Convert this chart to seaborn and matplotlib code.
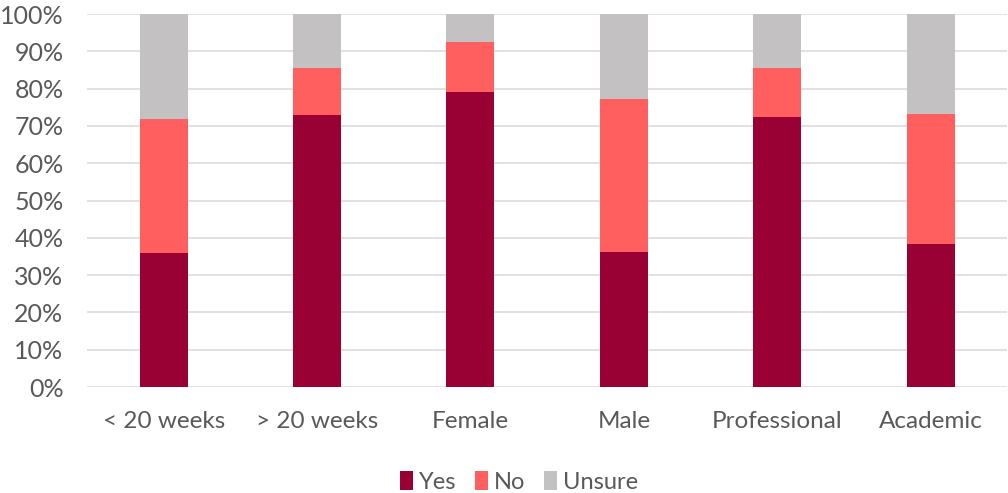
import matplotlib
matplotlib.use("Agg")
import matplotlib.pyplot as plt
import seaborn as sns
import pandas as pd
import numpy as np
from matplotlib.patches import Patch
from matplotlib.ticker import PercentFormatter

# Survey responses (percent of respondents) by group
categories = ["< 20 weeks", "> 20 weeks", "Female", "Male", "Professional", "Academic"]
yes = [36.0, 72.9, 79.2, 36.3, 72.5, 38.4]
no = [35.8, 12.7, 13.4, 40.9, 12.9, 34.7]
unsure = [28.2, 14.4, 7.4, 22.8, 14.6, 26.9]

series_names = ["Yes", "No", "Unsure"]
colors = {"Yes": "#990033", "No": "#FF5F5F", "Unsure": "#C3C1C2"}
text_color = "#595959"

sns.set_theme(style="white")
plt.rcParams["font.family"] = ["Lato", "DejaVu Sans"]

fig = plt.figure(figsize=(10.08, 4.93), dpi=100)
ax = fig.add_axes([0.0863, 0.215, 0.913, 0.7566])

# Stacked bars: draw cumulative totals from the top layer down
layers = {"Yes": np.array(yes), "No": np.array(no), "Unsure": np.array(unsure)}
cum = np.zeros(len(categories))
cumulative = {}
for name in series_names:
    cum = cum + layers[name]
    cumulative[name] = cum.copy()

for name in reversed(series_names):
    df = pd.DataFrame({"category": categories, "value": cumulative[name]})
    sns.barplot(data=df, x="category", y="value", color=colors[name],
                width=0.313, linewidth=0, saturation=1, ax=ax, zorder=2)

ax.set_ylim(0, 100)
ax.set_xlim(-0.5, len(categories) - 0.5)
ax.set_yticks(np.arange(0, 101, 10))
ax.yaxis.set_major_formatter(PercentFormatter(decimals=0))
ax.grid(axis="y", color="#D9D9D9", linewidth=1.1, zorder=0)
ax.set_axisbelow(True)
for s in ax.spines.values():
    s.set_visible(False)
ax.set_xlabel("")
ax.set_ylabel("")
ax.tick_params(axis="y", length=0, pad=17, labelsize=18, labelcolor=text_color)
ax.tick_params(axis="x", length=0, pad=17, labelsize=17.5, labelcolor=text_color)

handles = [Patch(facecolor=colors[n], edgecolor="none") for n in series_names]
fig.legend(handles, series_names, loc="center", bbox_to_anchor=(0.515, 0.022),
           ncol=3, frameon=False, fontsize=17, labelcolor=text_color,
           handlelength=0.55, handleheight=0.85, handletextpad=0.25, columnspacing=0.8)

fig.savefig("out.png", dpi=100)
